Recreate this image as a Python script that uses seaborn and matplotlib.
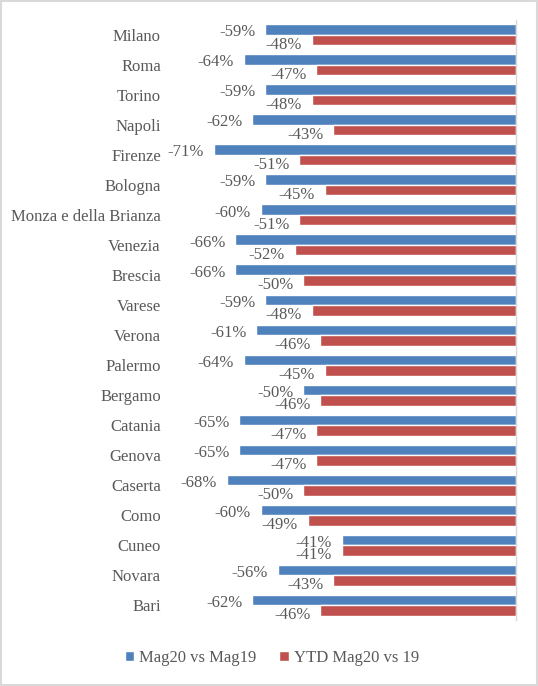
import numpy as np
import pandas as pd
import matplotlib.pyplot as plt
import seaborn as sns
from matplotlib.patches import Rectangle

# Data
cities = ["Milano", "Roma", "Torino", "Napoli", "Firenze", "Bologna",
          "Monza e della Brianza", "Venezia", "Brescia", "Varese", "Verona",
          "Palermo", "Bergamo", "Catania", "Genova", "Caserta", "Como",
          "Cuneo", "Novara", "Bari"]
mag = [-59, -64, -59, -62, -71, -59, -60, -66, -66, -59, -61, -64, -50,
       -65, -65, -68, -60, -41, -56, -62]
ytd = [-48, -47, -48, -43, -51, -45, -51, -52, -50, -48, -46, -45, -46,
       -47, -47, -50, -49, -41, -43, -46]
series = ["Mag20 vs Mag19", "YTD Mag20 vs 19"]
colors = ["#4F81BD", "#C0504D"]

df = pd.DataFrame({
    "city": cities * 2,
    "value": [v / 100 for v in mag] + [v / 100 for v in ytd],
    "serie": [series[0]] * len(cities) + [series[1]] * len(cities),
})

sns.set_style("white")
plt.rcParams['font.family'] = ['Liberation Serif', 'DejaVu Serif']
txt = "#595959"

fig = plt.figure(figsize=(5.38, 6.86), dpi=100)
ax = fig.add_axes([0.366, 0.096, 0.593, 0.875])

sns.barplot(data=df, y="city", x="value", hue="serie", order=cities,
            hue_order=series, palette=colors, width=0.7, orient="h",
            saturation=1, ax=ax, legend=True)

ax.set_xlim(-0.75, 0)
ax.set_ylim(len(cities) - 0.5, -0.5)
ax.set_xlabel("")
ax.set_ylabel("")
ax.set_xticks([])
ax.tick_params(axis="y", length=0, labelsize=12, labelcolor=txt, pad=26)
for s in ["top", "bottom", "left"]:
    ax.spines[s].set_visible(False)
ax.spines["right"].set_color("#D9D9D9")
ax.spines["right"].set_linewidth(1)

# data labels
offsets = [(-7, -2), (-7, -3.5)]
for cont, (dx, dy) in zip(ax.containers, offsets):
    for bar in cont:
        w = bar.get_width()
        yc = bar.get_y() + bar.get_height() / 2
        ax.annotate(f"{w * 100:.0f}%", (w, yc), xytext=(dx, dy),
                    textcoords="offset points", ha="right", va="center",
                    fontsize=12, color=txt)

leg = ax.legend(loc="center", bbox_to_anchor=(0.505, 0.041),
                bbox_transform=fig.transFigure, ncol=2, frameon=False,
                handlelength=0.55, handleheight=0.55, handletextpad=0.3,
                columnspacing=1.4, fontsize=12)
for t in leg.get_texts():
    t.set_color(txt)

fig.patches.append(Rectangle((0.002, 0.002), 0.996, 0.996, transform=fig.transFigure,
                             fill=False, edgecolor="#D9D9D9", linewidth=1.5))

fig.savefig("out.png", dpi=100)
